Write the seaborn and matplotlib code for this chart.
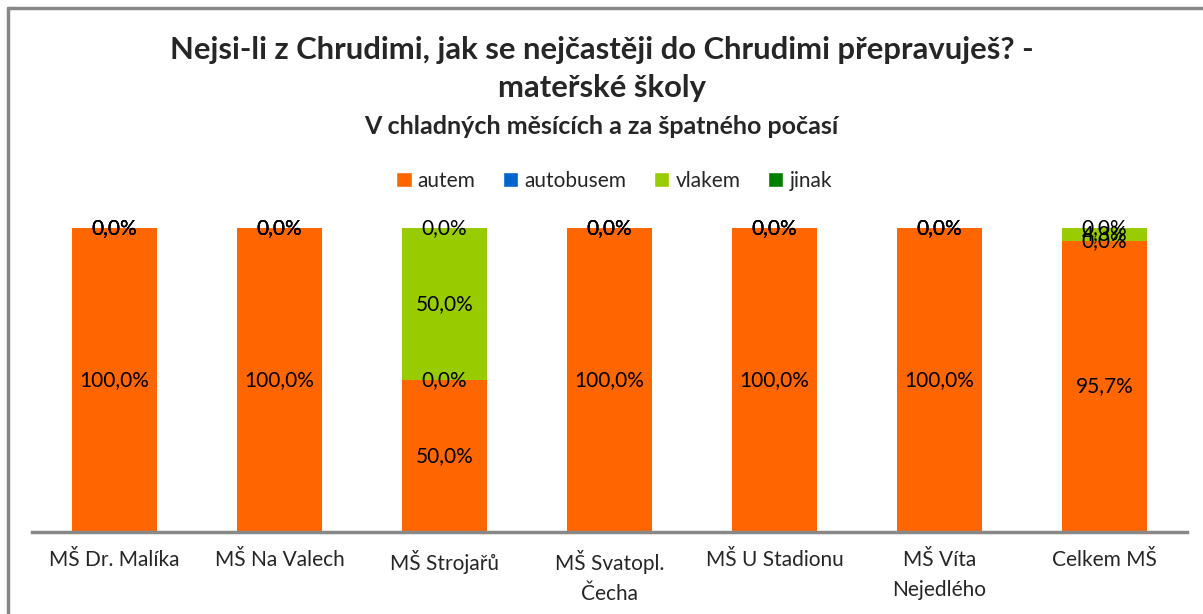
import numpy as np
import pandas as pd
import seaborn as sns
import matplotlib.pyplot as plt
from matplotlib.patches import Patch

categories = ["MŠ Dr. Malíka", "MŠ Na Valech", "MŠ Strojařů", "MŠ Svatopl.\nČecha",
              "MŠ U Stadionu", "MŠ Víta\nNejedlého", "Celkem MŠ"]
series = ["autem", "autobusem", "vlakem", "jinak"]
autem = [1.0, 1.0, 0.5, 1.0, 1.0, 1.0, 0.957]
autobusem = [0.0, 0.0, 0.0, 0.0, 0.0, 0.0, 0.0]
vlakem = [0.0, 0.0, 0.5, 0.0, 0.0, 0.0, 0.043]
jinak = [0.0, 0.0, 0.0, 0.0, 0.0, 0.0, 0.0]
colors = ["#FF6600", "#0066CC", "#99CC00", "#008000"]

sns.set_style("white")
plt.rcParams['font.family'] = ['Lato', 'DejaVu Sans']

fig = plt.figure(figsize=(12.03, 6.14), dpi=100)
ax = fig.add_axes([32 / 1203, 1 - 532 / 614, 1155 / 1203, 304 / 614])

values = np.array([autem, autobusem, vlakem, jinak])
cum = values.cumsum(axis=0)

# draw cumulative layers back to front so the stack shows
for i in range(len(series) - 1, -1, -1):
    df = pd.DataFrame({"cat": categories, "val": cum[i]})
    sns.barplot(data=df, x="cat", y="val", color=colors[i], width=0.52,
                saturation=1, linewidth=0, ax=ax)

# data labels centred in each segment
for i in range(len(series)):
    for j in range(len(categories)):
        bottom = cum[i][j] - values[i][j]
        y = bottom + values[i][j] / 2
        ax.text(j, y, f"{values[i][j] * 100:.1f}%".replace(".", ","),
                ha="center", va="center", fontsize=15, color="black", clip_on=False)

ax.set_xlim(-0.5, 6.5)
ax.set_ylim(0, 1)
ax.set_xlabel("")
ax.set_ylabel("")
ax.set_yticks([])
for s in ["top", "right", "left"]:
    ax.spines[s].set_visible(False)
ax.spines["bottom"].set_color("#888888")
ax.spines["bottom"].set_linewidth(2.5)
ax.tick_params(axis="x", length=0, pad=13, labelsize=15)
ax.set_xticks(range(len(categories)))
ax.set_xticklabels(categories, linespacing=1.6)

fig.text(0.5, 1 - 50 / 614, "Nejsi-li z Chrudimi, jak se nejčastěji do Chrudimi přepravuješ? -",
         ha="center", va="center", fontsize=22.3, fontweight="bold")
fig.text(0.5, 1 - 88 / 614, "mateřské školy", ha="center", va="center",
         fontsize=22.3, fontweight="bold")
fig.text(0.5, 1 - 127 / 614, "V chladných měsících a za špatného počasí",
         ha="center", va="center", fontsize=18, fontweight="bold")

handles = [Patch(facecolor=c, label=s) for c, s in zip(colors, series)]
fig.legend(handles=handles, loc="center", bbox_to_anchor=(614 / 1203, 1 - 181 / 614),
           ncol=4, frameon=False, fontsize=15, handlelength=0.75, handleheight=0.75,
           handletextpad=0.3, columnspacing=1.3)

# outer chart frame
fig.add_artist(plt.Line2D([8 / 1203, 8 / 1203], [0, 1 - 8 / 614], color="#888888", lw=2.5))
fig.add_artist(plt.Line2D([8 / 1203, 1], [1 - 8 / 614, 1 - 8 / 614], color="#888888", lw=2.5))

fig.savefig("out.png", dpi=100)
